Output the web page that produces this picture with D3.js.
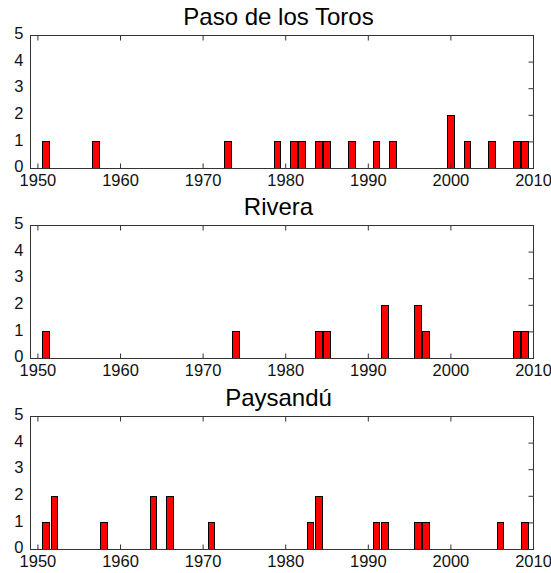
<!DOCTYPE html>
<html>
<head>
<meta charset="utf-8">
<script src="https://cdn.jsdelivr.net/npm/d3@7"></script>
<style>
  html, body { margin: 0; padding: 0; background: #fff; }
  svg { display: block; font-family: Arial, "Liberation Sans", Helvetica, sans-serif; }
</style>
</head>
<body>
<svg id="chart" width="551" height="573"></svg>
<script>
// Yearly event counts per station
const stationNames = ["Paso de los Toros", "Rivera", "Paysandú"];

const pasoYears  = [1951, 1957, 1973, 1979, 1981, 1982, 1984, 1985, 1988, 1991, 1993, 2000, 2002, 2005, 2008, 2009];
const pasoCounts = [1, 1, 1, 1, 1, 1, 1, 1, 1, 1, 1, 2, 1, 1, 1, 1];

const riveraYears  = [1951, 1974, 1984, 1985, 1992, 1996, 1997, 2008, 2009];
const riveraCounts = [1, 1, 1, 1, 2, 2, 1, 1, 1];

const paysanduYears  = [1951, 1952, 1958, 1964, 1966, 1971, 1983, 1984, 1991, 1992, 1996, 1997, 2006, 2009];
const paysanduCounts = [1, 2, 1, 2, 2, 1, 1, 2, 1, 1, 1, 1, 1, 1];

const xTickValues = [1950, 1960, 1970, 1980, 1990, 2000, 2010];
const yTickValues = [0, 1, 2, 3, 4, 5];

const panels = [
  { name: stationNames[0], years: pasoYears, counts: pasoCounts },
  { name: stationNames[1], years: riveraYears, counts: riveraCounts },
  { name: stationNames[2], years: paysanduYears, counts: paysanduCounts }
];

// Layout
const left = 30, right = 533;
const panelTop = [35, 225, 416];
const panelHeight = 133;
const barWidth = 0.8;
const tickLen = 5;
const labelFont = 16.5;
const titleFont = 24;

const svg = d3.select("#chart");

const x = d3.scaleLinear().domain([1949.1, 2010]).range([left, right]);

panels.forEach((p, i) => {
  const top = panelTop[i];
  const bottom = top + panelHeight;
  const y = d3.scaleLinear().domain([0, 5]).range([bottom, top]);
  const g = svg.append("g");

  // Title
  g.append("text")
    .attr("x", (left + right) / 2 - 3)
    .attr("y", top - 10)
    .attr("text-anchor", "middle")
    .style("font-size", titleFont + "px")
    .attr("fill", "#000")
    .text(p.name);

  // Bars
  const rows = p.years.map((yr, k) => ({ year: yr, count: p.counts[k] }));
  g.selectAll("rect.bar")
    .data(rows)
    .enter().append("rect")
    .attr("class", "bar")
    .attr("x", d => Math.round(x(d.year - barWidth / 2)) + 0.5)
    .attr("width", d => Math.round(x(d.year + barWidth / 2)) - Math.round(x(d.year - barWidth / 2)))
    .attr("y", d => Math.round(y(d.count)) + 0.5)
    .attr("height", d => Math.round(y(0)) - Math.round(y(d.count)))
    .attr("fill", "#ff0000")
    .attr("stroke", "#000")
    .attr("stroke-width", 1);

  // Bottom axis: labels and inward ticks
  const gx = g.append("g")
    .attr("transform", `translate(0,${Math.round(bottom) + 0.5})`)
    .call(d3.axisBottom(x)
      .tickValues(xTickValues)
      .tickFormat(d3.format("d"))
      .tickSizeInner(-tickLen)
      .tickSizeOuter(0)
      .tickPadding(tickLen + 1));
  gx.select(".domain").remove();
  gx.selectAll(".tick line").attr("stroke", "#333");
  gx.selectAll(".tick text")
    .style("font-size", labelFont + "px")
    .style("font-family", "Arial, 'Liberation Sans', sans-serif")
    .attr("fill", "#111");

  // Top axis: inward ticks only
  const gt = g.append("g")
    .attr("transform", `translate(0,${Math.round(top) + 0.5})`)
    .call(d3.axisTop(x).tickValues(xTickValues).tickSizeInner(-tickLen).tickSizeOuter(0).tickFormat(""));
  gt.select(".domain").remove();
  gt.selectAll(".tick line").attr("stroke", "#333");

  // Left axis: labels, set slightly above their gridline
  const gy = g.append("g")
    .attr("transform", `translate(${left + 0.5},-1.5)`)
    .call(d3.axisLeft(y).tickValues(yTickValues).tickSize(0).tickPadding(7).tickFormat(d3.format("d")));
  gy.select(".domain").remove();
  gy.selectAll(".tick text")
    .style("font-size", labelFont + "px")
    .style("font-family", "Arial, 'Liberation Sans', sans-serif")
    .attr("fill", "#111");

  // Right axis: inward ticks
  const gr = g.append("g")
    .attr("transform", `translate(${right + 0.5},0)`)
    .call(d3.axisRight(y).tickValues(yTickValues.slice(1, 5)).tickSizeInner(-tickLen).tickSizeOuter(0).tickFormat(""));
  gr.select(".domain").remove();
  gr.selectAll(".tick line").attr("stroke", "#333");

  // Frame
  g.append("rect")
    .attr("x", left + 0.5)
    .attr("y", Math.round(top) + 0.5)
    .attr("width", right - left)
    .attr("height", Math.round(bottom) - Math.round(top))
    .attr("fill", "none")
    .attr("stroke", "#333")
    .attr("stroke-width", 1);
});
</script>
</body>
</html>
